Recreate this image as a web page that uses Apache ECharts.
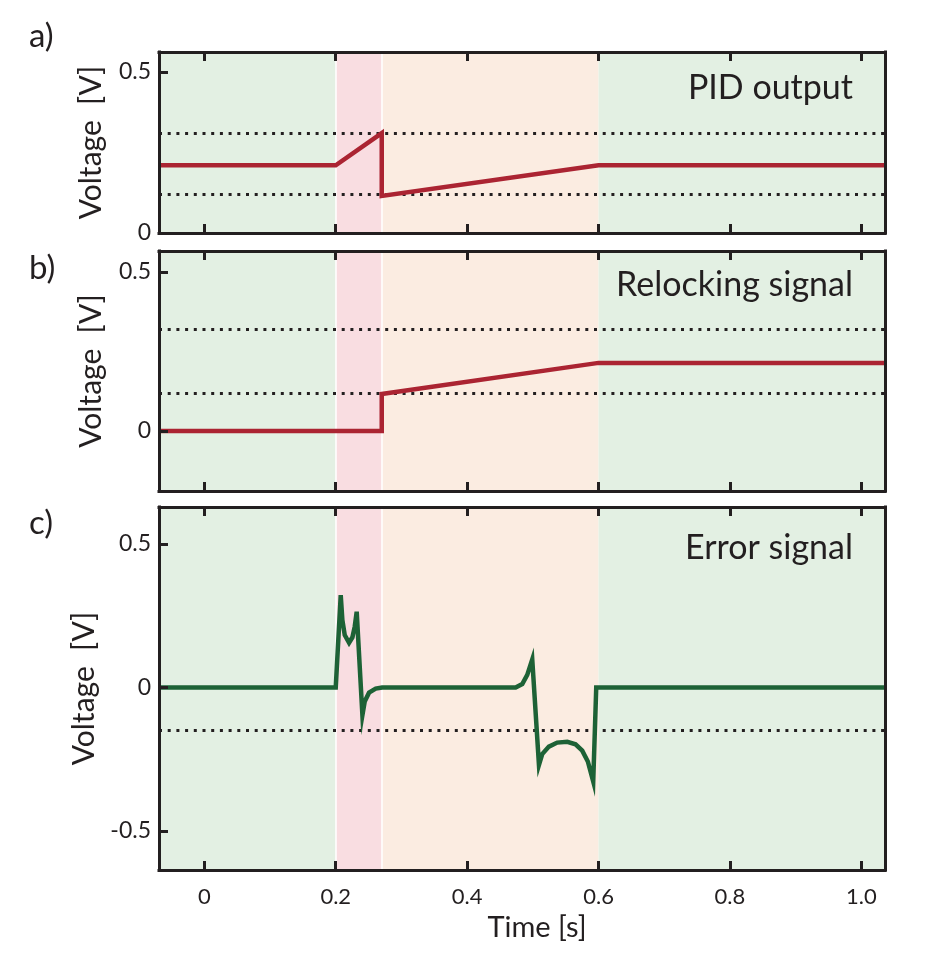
<!DOCTYPE html>
<html>
<head>
<meta charset="utf-8">
<script src="https://cdn.jsdelivr.net/npm/echarts@6.0.0/dist/echarts.min.js"></script>
<style>
  html, body { margin: 0; padding: 0; background: #fff; }
  #chart { width: 948px; height: 966px; }
</style>
</head>
<body>
<div id="chart"></div>
<script>
// shared time axis
const timeRange = [-0.069, 1.036]
const timeTicks = [0, 0.2, 0.4, 0.6, 0.8, 1.0]
const timeTickText = ['0', '0.2', '0.4', '0.6', '0.8', '1.0']

// locked / relock ramp / lock recovery / locked
const phaseEdges = [0.2, 0.27, 0.6]
const phaseColors = ['#e3f0e3', '#f9dde1', '#fbece1', '#e3f0e3']

const panelNames = ['PID output', 'Relocking signal', 'Error signal']
const panelLetters = ['a)', 'b)', 'c)']
const voltRanges = [[0, 0.562], [-0.189, 0.566], [-0.636, 0.629]]
const voltTicks = [[0, 0.5], [0, 0.5], [-0.5, 0, 0.5]]
const dottedLevels = [[0.115, 0.31], [0.116, 0.315], [-0.154]]

// a) PID output
const pidTime = [-0.069, 0.2, 0.27, 0.27, 0.6, 1.036]
const pidVolt = [0.21, 0.21, 0.31, 0.115, 0.21, 0.21]

// b) relocking signal
const relockTime = [-0.069, 0.27, 0.27, 0.6, 1.036]
const relockVolt = [0, 0, 0.116, 0.214, 0.214]

// c) error signal
const errTime = [-0.069, 0.2, 0.2076, 0.2101, 0.2137, 0.2203, 0.2254, 0.2289, 0.2319,
    0.2406, 0.2441, 0.2507, 0.2608, 0.2707, 0.4738, 0.4839, 0.4915, 0.4991,
    0.5093, 0.5143, 0.5244, 0.5371, 0.5524, 0.565, 0.5752, 0.5837, 0.5919, 0.5965, 1.036]
const errVolt = [0, 0, 0.322, 0.235, 0.183, 0.156, 0.175, 0.212, 0.264,
    -0.096, -0.049, -0.018, -0.004, 0, 0, 0.012, 0.044, 0.098,
    -0.27, -0.232, -0.206, -0.192, -0.189, -0.198, -0.22, -0.258, -0.328, 0, 0]

const lineTimes = [pidTime, relockTime, errTime]
const lineVolts = [pidVolt, relockVolt, errVolt]
const lineColors = ['#ab2432', '#ab2432', '#1d6236']

// layout
const ink = '#231f20'
const font = 'Lato'
const gridLeft = 159
const gridWidth = 726
const gridTops = [52, 251, 507]
const gridHeights = [181, 240, 363]
const titleBaseline = [100, 297, 560]
const letterTop = [20, 252, 507]

function zip(xs, ys) {
    let out = []
    for (let i = 0; i < xs.length; i++) {
        out.push([xs[i], ys[i]])
    }
    return out
}

let grids = []
let xAxes = []
let yAxes = []
let series = []
let graphics = []

const bounds = [timeRange[0]].concat(phaseEdges, [timeRange[1]])

for (let k = 0; k < 3; k++) {
    grids.push({left: gridLeft, top: gridTops[k], width: gridWidth, height: gridHeights[k]})

    let tickStyle = {show: true, inside: true, length: 9, customValues: timeTicks, lineStyle: {color: ink, width: 3}}
    let frameLine = {show: true, onZero: false, lineStyle: {color: ink, width: 3, cap: 'square'}}

    // bottom time axis
    xAxes.push({
        gridIndex: k, type: 'value', position: 'bottom', z: 10,
        min: timeRange[0], max: timeRange[1],
        axisLine: frameLine,
        axisTick: tickStyle,
        splitLine: {show: false},
        axisLabel: {
            show: k === 2, customValues: timeTicks, margin: 16,
            fontSize: 22, color: ink, fontFamily: font,
            formatter: function (v) {
                let idx = timeTicks.indexOf(v)
                return idx >= 0 ? timeTickText[idx] : ''
            }
        },
        name: k === 2 ? 'Time [s]' : '',
        nameLocation: 'middle', nameGap: 43,
        nameTextStyle: {fontSize: 29, color: ink, fontFamily: font, padding: [0, 0, 0, 30]}
    })
    // top time axis (ticks only)
    xAxes.push({
        gridIndex: k, type: 'value', position: 'top', z: 10,
        min: timeRange[0], max: timeRange[1],
        axisLine: frameLine,
        axisTick: tickStyle,
        axisLabel: {show: false},
        splitLine: {show: false}
    })
    // left voltage axis
    yAxes.push({
        gridIndex: k, type: 'value', position: 'left', z: 10,
        min: voltRanges[k][0], max: voltRanges[k][1],
        axisLine: frameLine,
        axisTick: {show: true, inside: true, length: 9, customValues: voltTicks[k], lineStyle: {color: ink, width: 3}},
        axisLabel: {
            customValues: voltTicks[k], margin: 8,
            fontSize: 23, color: ink, fontFamily: font,
            formatter: function (v) { return String(v) }
        },
        splitLine: {show: false},
        name: 'Voltage  [V]', nameLocation: 'middle', nameGap: 53, nameRotate: 90,
        nameTextStyle: {fontSize: 30, color: ink, fontFamily: font}
    })
    // right frame side
    yAxes.push({
        gridIndex: k, type: 'value', position: 'right', z: 10,
        min: voltRanges[k][0], max: voltRanges[k][1],
        axisLine: frameLine,
        axisTick: {show: false},
        axisLabel: {show: false},
        splitLine: {show: false}
    })

    // phase background bands
    let areas = []
    for (let i = 0; i < phaseColors.length; i++) {
        areas.push([{xAxis: bounds[i], itemStyle: {color: phaseColors[i]}}, {xAxis: bounds[i + 1]}])
    }
    series.push({
        type: 'line', xAxisIndex: 2 * k, yAxisIndex: 2 * k, data: [], z: 1, silent: true,
        markArea: {silent: true, z: 1, itemStyle: {opacity: 1}, data: areas}
    })

    // thin white separators + dotted threshold levels
    let marks = []
    for (let i = 0; i < 2; i++) {
        marks.push({xAxis: phaseEdges[i], lineStyle: {color: '#ffffff', width: 1.5, type: 'solid'}})
    }
    dottedLevels[k].forEach(function (lv) {
        marks.push({yAxis: lv, lineStyle: {color: ink, width: 3, type: [3, 5.7]}})
    })
    series.push({
        type: 'line', xAxisIndex: 2 * k, yAxisIndex: 2 * k, data: [], z: 2, silent: true,
        markLine: {silent: true, z: 2, symbol: 'none', label: {show: false}, animation: false, data: marks}
    })

    // signal
    series.push({
        type: 'line', xAxisIndex: 2 * k, yAxisIndex: 2 * k, z: 6,
        data: zip(lineTimes[k], lineVolts[k]),
        showSymbol: false, symbol: 'none',
        lineStyle: {color: lineColors[k], width: 4.5, join: 'miter'},
        itemStyle: {color: lineColors[k]}
    })

    graphics.push({
        type: 'text', right: 948 - 853, top: titleBaseline[k] - 29, z: 20,
        style: {text: panelNames[k], fontSize: 34, fill: ink, fontFamily: font}
    })
    graphics.push({
        type: 'text', left: 29, top: letterTop[k], z: 20,
        style: {text: panelLetters[k], fontSize: 33, fill: ink, fontFamily: font}
    })
}

let option = {
    animation: false,
    backgroundColor: '#ffffff',
    grid: grids,
    xAxis: xAxes,
    yAxis: yAxes,
    series: series,
    graphic: graphics
}

const dom = document.getElementById('chart')
const myChart = echarts.init(dom)
myChart.setOption(option)
</script>
</body>
</html>
